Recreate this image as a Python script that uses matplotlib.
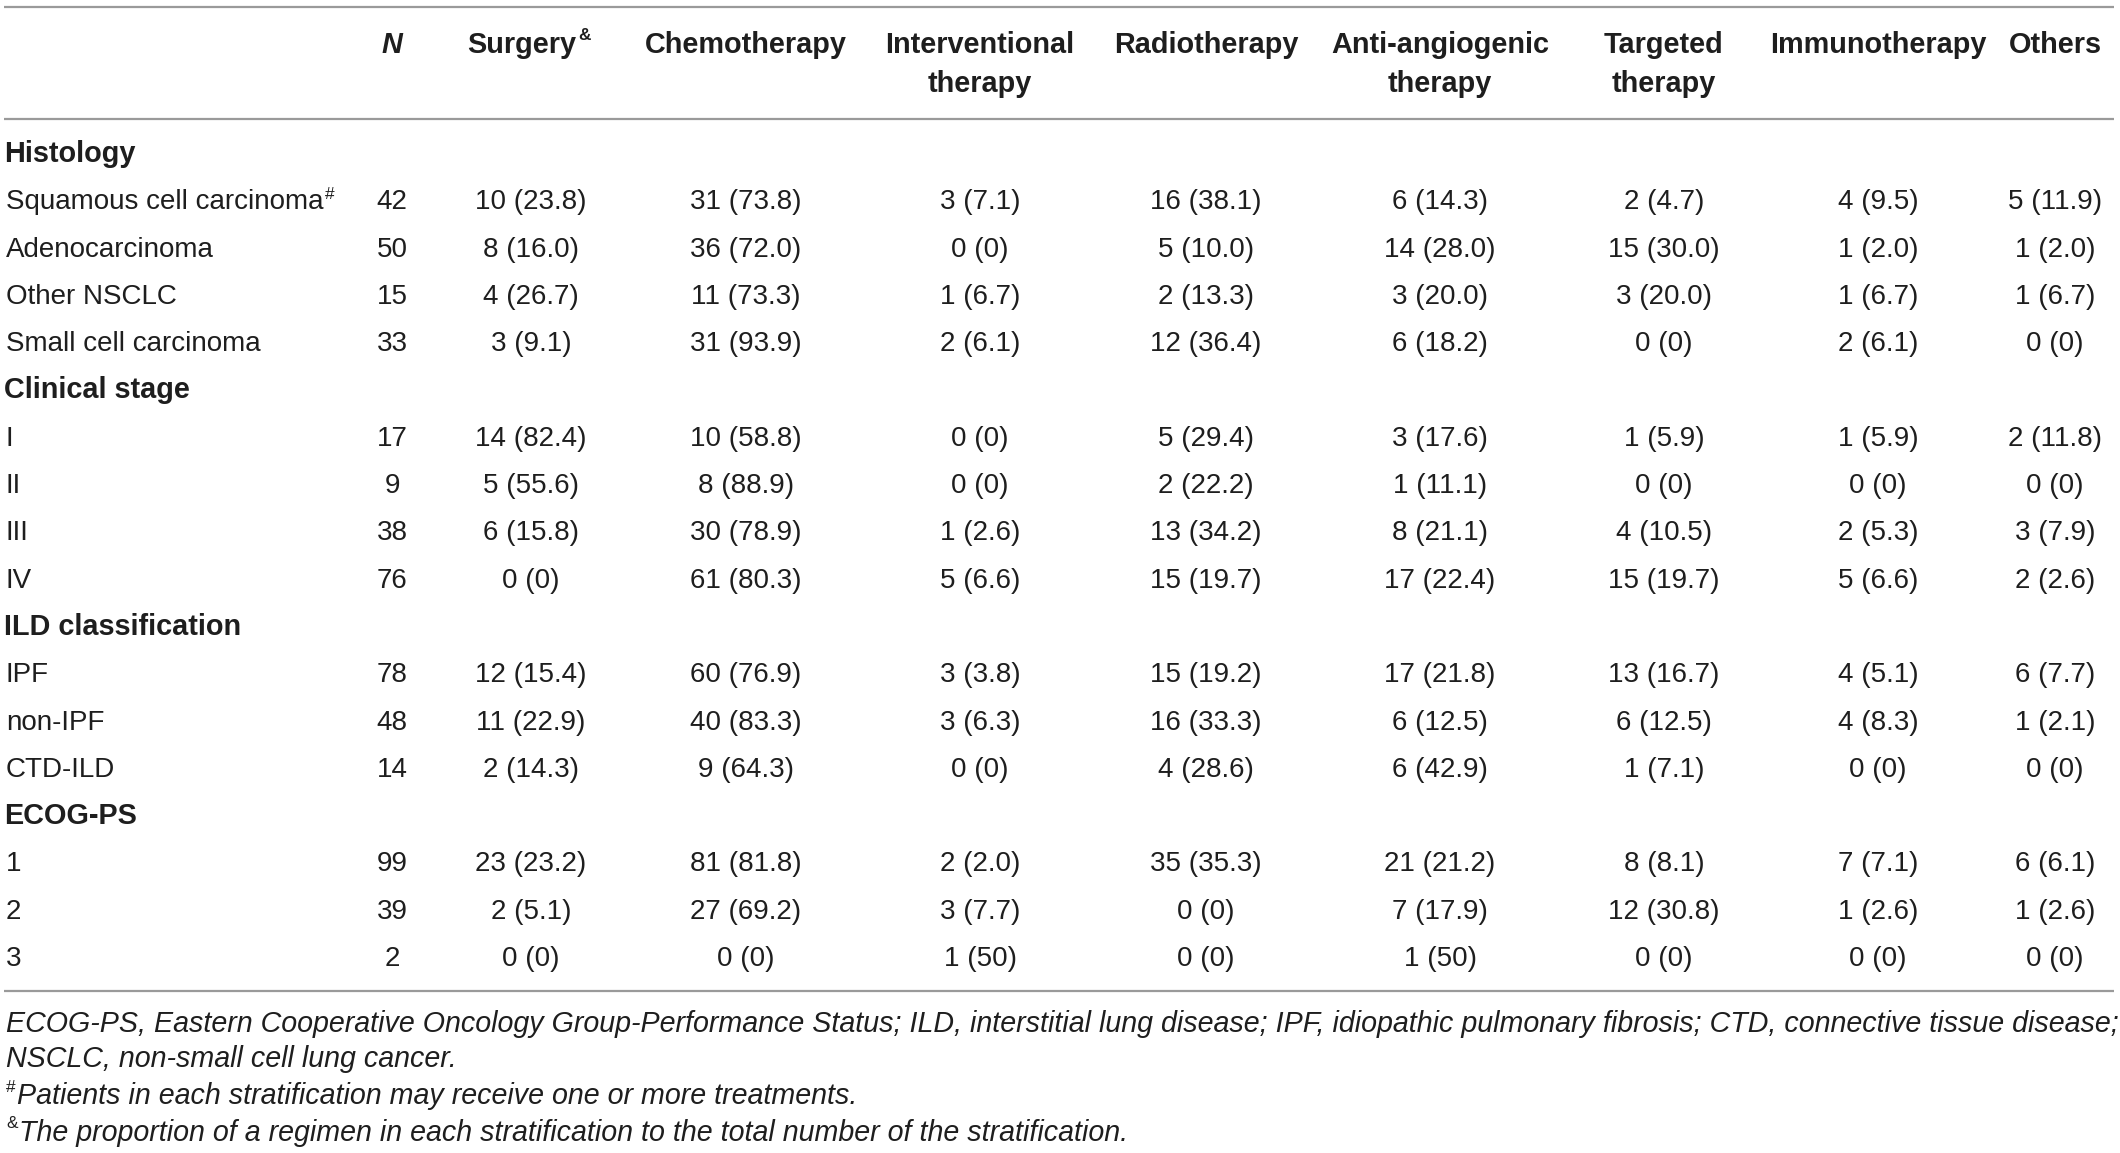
import matplotlib
matplotlib.use('Agg')
import matplotlib.pyplot as plt

# table content
treatments = ['Surgery', 'Chemotherapy', 'Interventional\ntherapy', 'Radiotherapy',
              'Anti-angiogenic\ntherapy', 'Targeted\ntherapy', 'Immunotherapy', 'Others']
groups = ['Histology', 'Clinical stage', 'ILD classification', 'ECOG-PS']
group_rows = [['Squamous cell carcinoma', 'Adenocarcinoma', 'Other NSCLC', 'Small cell carcinoma'],
              ['I', 'II', 'III', 'IV'],
              ['IPF', 'non-IPF', 'CTD-ILD'],
              ['1', '2', '3']]
n_values = [42, 50, 15, 33, 17, 9, 38, 76, 78, 48, 14, 99, 39, 2]

surgery = ['10 (23.8)', '8 (16.0)', '4 (26.7)', '3 (9.1)', '14 (82.4)', '5 (55.6)', '6 (15.8)', '0 (0)',
           '12 (15.4)', '11 (22.9)', '2 (14.3)', '23 (23.2)', '2 (5.1)', '0 (0)']
chemo = ['31 (73.8)', '36 (72.0)', '11 (73.3)', '31 (93.9)', '10 (58.8)', '8 (88.9)', '30 (78.9)', '61 (80.3)',
         '60 (76.9)', '40 (83.3)', '9 (64.3)', '81 (81.8)', '27 (69.2)', '0 (0)']
interventional = ['3 (7.1)', '0 (0)', '1 (6.7)', '2 (6.1)', '0 (0)', '0 (0)', '1 (2.6)', '5 (6.6)',
                  '3 (3.8)', '3 (6.3)', '0 (0)', '2 (2.0)', '3 (7.7)', '1 (50)']
radio = ['16 (38.1)', '5 (10.0)', '2 (13.3)', '12 (36.4)', '5 (29.4)', '2 (22.2)', '13 (34.2)', '15 (19.7)',
         '15 (19.2)', '16 (33.3)', '4 (28.6)', '35 (35.3)', '0 (0)', '0 (0)']
anti_angio = ['6 (14.3)', '14 (28.0)', '3 (20.0)', '6 (18.2)', '3 (17.6)', '1 (11.1)', '8 (21.1)', '17 (22.4)',
              '17 (21.8)', '6 (12.5)', '6 (42.9)', '21 (21.2)', '7 (17.9)', '1 (50)']
targeted = ['2 (4.7)', '15 (30.0)', '3 (20.0)', '0 (0)', '1 (5.9)', '0 (0)', '4 (10.5)', '15 (19.7)',
            '13 (16.7)', '6 (12.5)', '1 (7.1)', '8 (8.1)', '12 (30.8)', '0 (0)']
immuno = ['4 (9.5)', '1 (2.0)', '1 (6.7)', '2 (6.1)', '1 (5.9)', '0 (0)', '2 (5.3)', '5 (6.6)',
          '4 (5.1)', '4 (8.3)', '0 (0)', '7 (7.1)', '1 (2.6)', '0 (0)']
others = ['5 (11.9)', '1 (2.0)', '1 (6.7)', '0 (0)', '2 (11.8)', '0 (0)', '3 (7.9)', '2 (2.6)',
          '6 (7.7)', '1 (2.1)', '0 (0)', '6 (6.1)', '1 (2.6)', '0 (0)']
columns = [surgery, chemo, interventional, radio, anti_angio, targeted, immuno, others]

footnotes = ['ECOG-PS, Eastern Cooperative Oncology Group-Performance Status; ILD, interstitial lung disease; '
             'IPF, idiopathic pulmonary fibrosis; CTD, connective tissue disease;',
             'NSCLC, non-small cell lung cancer.',
             'Patients in each stratification may receive one or more treatments.',
             'The proportion of a regimen in each stratification to the total number of the stratification.']

plt.rcParams['font.family'] = ['Liberation Sans', 'DejaVu Sans']
txt = '#1e1e1e'
fs = 20
fs_head = 20.8
fs_note = 20.6

W, H = 2120, 1153
fig = plt.figure(figsize=(W / 100, H / 100), dpi=100)
ax = fig.add_axes([0, 0, 1, 1])
ax.set_xlim(0, W)
ax.set_ylim(H, 0)
ax.axis('off')

x_label = 6
x_n = 392
x_cols = [531, 746, 980, 1206, 1440, 1664, 1878, 2055]
row_h = 47.3

# rules
for y in [7, 119, 991]:
    ax.plot([4, 2114], [y, y], color='#9a9a9a', lw=1.6, solid_capstyle='butt')

# header
ax.text(x_n, 45, 'N', ha='center', va='center', fontsize=fs_head, fontweight='bold', style='italic', color=txt)
for i, (x, name) in enumerate(zip(x_cols, treatments)):
    lines = name.split('\n')
    for j, line in enumerate(lines):
        t = ax.text(x - (9 if i == 0 else 0), 45 + j * 39, line, ha='center', va='center',
                    fontsize=fs_head, fontweight='bold', color=txt)
        if i == 0:
            ax.annotate('&', xy=(1, 1), xycoords=t, xytext=(1, 2), textcoords='offset points',
                        ha='left', va='top', fontsize=fs * 0.62, fontweight='bold', color=txt)

# body
y = 154
r = 0
for g, labels in zip(groups, group_rows):
    ax.text(x_label - 2, y, g, ha='left', va='center', fontsize=fs_head, fontweight='bold', color=txt)
    y += row_h
    for lab in labels:
        t = ax.text(x_label, y + 1, lab, ha='left', va='center', fontsize=fs, color=txt)
        if r == 0:
            ax.annotate('#', xy=(1, 1), xycoords=t, xytext=(1, 2), textcoords='offset points',
                        ha='left', va='top', fontsize=fs * 0.62, color=txt)
        ax.text(x_n, y + 1, str(n_values[r]), ha='center', va='center', fontsize=fs, color=txt)
        for x, col in zip(x_cols, columns):
            ax.text(x, y + 1, col[r], ha='center', va='center', fontsize=fs, color=txt)
        y += row_h
        r += 1

# footnotes
fy = [1024, 1059, 1096, 1133]
ax.text(x_label, fy[0], footnotes[0], ha='left', va='center', fontsize=fs_note, style='italic', color=txt)
ax.text(x_label, fy[1], footnotes[1], ha='left', va='center', fontsize=fs_note, style='italic', color=txt)
for k, mark in zip([2, 3], ['#', '&']):
    m = ax.text(x_label, fy[k] - 9, mark, ha='left', va='center', fontsize=fs * 0.62, color=txt)
    ax.annotate(footnotes[k], xy=(1, fy[k]), xycoords=(m, 'data'), xytext=(1, 0),
                textcoords='offset points', ha='left', va='center',
                fontsize=fs_note, style='italic', color=txt)

fig.savefig('out.png', dpi=100)
